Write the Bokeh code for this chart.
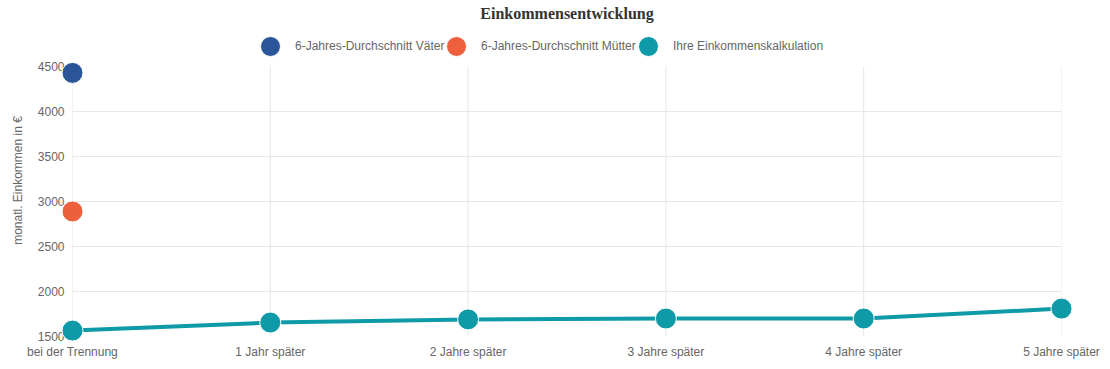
from bokeh.plotting import figure
from bokeh.models import Range1d, FixedTicker, Legend, LegendItem
from bokeh.embed import file_html
from bokeh.resources import INLINE

categories = ["bei der Trennung", "1 Jahr später", "2 Jahre später", "3 Jahre später", "4 Jahre später", "5 Jahre später"]
x_pos = [0, 1, 2, 3, 4, 5]
vaeter = [4430]
muetter = [2890]
ihre = [1566, 1655, 1690, 1700, 1700, 1810]
y_ticks = [1500, 2000, 2500, 3000, 3500, 4000, 4500]
legend_labels = ["6-Jahres-Durchschnitt Väter", "6-Jahres-Durchschnitt Mütter", "Ihre Einkommenskalkulation"]

C_V = "#2a5599"
C_M = "#ee5f3e"
C_I = "#0e9aa6"
GRAY = "#666666"
GRID = "#e6e6e6"
FONT = "Liberation Sans"

# frame extends above the top tick to leave room for the legend row
y_min, y_max = y_ticks[0], y_ticks[-1]
p = figure(width=1102, height=361, output_backend="svg", toolbar_location=None,
           x_range=Range1d(x_pos[0], x_pos[-1]), y_range=Range1d(y_min, 4968),
           min_border_left=72, min_border_right=41, min_border_bottom=24, min_border_top=22)
p.outline_line_color = None
p.background_fill_color = "white"

p.title.text = "Einkommensentwicklung"
p.title.align = "center"
p.title.text_font = "Liberation Serif"
p.title.text_font_style = "bold"
p.title.text_font_size = "16px"
p.title.text_color = "#333333"
p.title.standoff = 5

p.xaxis.ticker = FixedTicker(ticks=x_pos)
p.xaxis.major_label_overrides = {x: c for x, c in zip(x_pos, categories)}
p.yaxis.ticker = FixedTicker(ticks=y_ticks)
for ax in (p.xaxis, p.yaxis):
    ax.axis_line_color = None
    ax.major_tick_line_color = None
    ax.minor_tick_line_color = None
    ax.major_label_text_color = GRAY
    ax.major_label_text_font = FONT
    ax.major_label_text_font_size = "12px"
p.yaxis.major_label_standoff = 2
p.xaxis.major_label_standoff = 2
p.yaxis.axis_label = "monatl. Einkommen in €"
p.yaxis.axis_label_text_font = FONT
p.yaxis.axis_label_text_font_style = "normal"
p.yaxis.axis_label_text_font_size = "12px"
p.yaxis.axis_label_text_color = GRAY
p.yaxis.axis_label_standoff = 10

p.xgrid.visible = False
p.ygrid.grid_line_color = GRID
p.ygrid.ticker = FixedTicker(ticks=y_ticks[:-1])
# vertical category grid lines spanning only the value range
p.segment(x0=x_pos, y0=[y_min] * len(x_pos), x1=x_pos, y1=[y_max] * len(x_pos),
          line_color=GRID, line_width=1, level="underlay")

ln = p.line(x_pos, ihre, line_color=C_I, line_width=4, level="overlay")
r_i = p.scatter(x_pos, ihre, size=21, fill_color=C_I, line_color="white", line_width=1, level="overlay")
r_v = p.scatter([0], vaeter, size=21, fill_color=C_V, line_color="white", line_width=1, level="overlay")
r_m = p.scatter([0], muetter, size=21, fill_color=C_M, line_color="white", line_width=1, level="overlay")

# one legend per item so each entry sits where the reference shows it
legend_x = [173, 359, 551]
for lbl, rend, lx in zip(legend_labels, [r_v, r_m, r_i], legend_x):
    lg = Legend(items=[LegendItem(label=lbl, renderers=[rend])],
                orientation="horizontal", location=(lx, 265),
                label_text_font=FONT, label_text_font_size="12px", label_text_color=GRAY,
                glyph_width=50, glyph_height=50, spacing=0, padding=0, margin=0,
                label_standoff=0, border_line_color=None, background_fill_alpha=0)
    p.add_layout(lg, "center")

open("out.html", "w").write(file_html(p, INLINE))
